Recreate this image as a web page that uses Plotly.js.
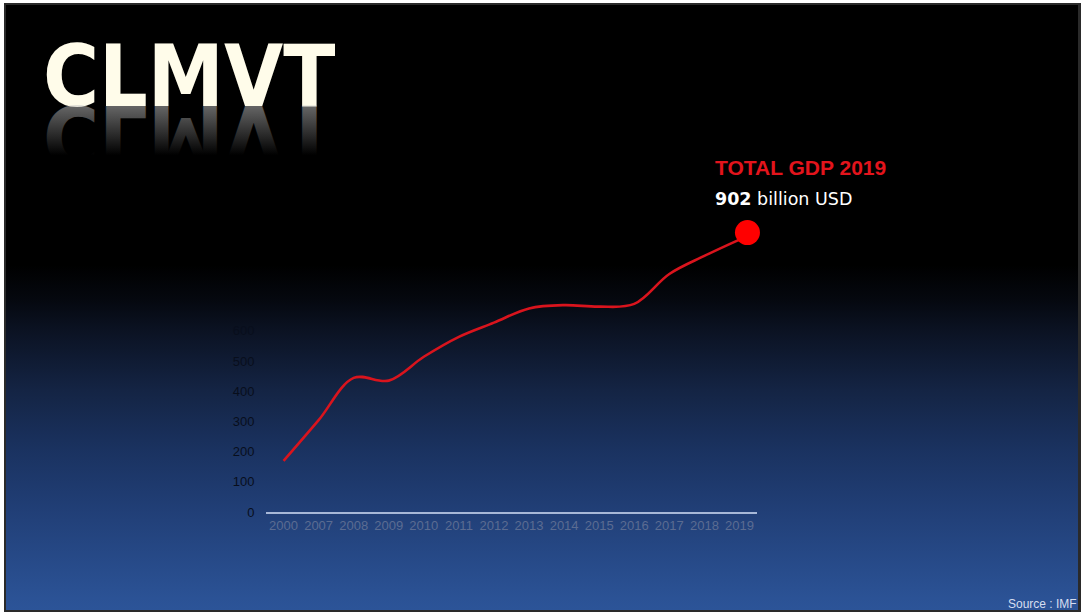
<!DOCTYPE html>
<html>
<head>
<meta charset="utf-8">
<script src="https://cdn.plot.ly/plotly-3.0.1.min.js"></script>
<style>
  html, body { margin: 0; padding: 0; background: #ffffff; }
  #chart {
    width: 1084px; height: 615px;
    background:
      linear-gradient(to bottom, #000000 0%, #000000 43%, #05080f 48.7%, #0b1222 53.6%, #142444 63.7%, #1a3260 73.4%, #213f77 83.7%, #2b5295 98%, #2c5498 100%) 6px 5px / 1072px 605px no-repeat,
      linear-gradient(#2a2a2a, #2a2a2a) 4px 3px / 1077px 609px no-repeat,
      #ffffff;
  }
</style>
</head>
<body>
<div id="chart"></div>
<script>
// ---- data ----
const years = ["2000","2007","2008","2009","2010","2011","2012","2013","2014","2015","2016","2017","2018","2019"];
const gdp = [169, 304, 444, 435, 514, 580, 627, 674, 685, 680, 689, 788, 848, 902];
const yTicks = [0, 100, 200, 300, 400, 500, 600];
const lastYear = ["2019"];
const lastValue = [902];

// plot area in pixels: left 266, right 757, top 210, bottom 512
const L = 266, R = 757, T = 210, B = 512;
const px = x => (x - L) / (R - L);
const py = y => (B - y) / (B - T);
const catW = (R - L) / years.length;       // px per category
const unitH = (B - T) / 1000;              // px per y unit
const mdx = 8 / catW, mdy = 7 / unitH;     // marker sits a little up-right of the line end

const traces = [
  {
    x: years, y: gdp, type: 'scatter', mode: 'lines',
    line: { color: '#d9141d', width: 2.6, shape: 'spline', smoothing: 1 },
    hoverinfo: 'skip'
  },
  {
    x: lastYear, y: lastValue, type: 'scatter', mode: 'markers',
    xaxis: 'x2', yaxis: 'y2', cliponaxis: false,
    marker: { color: '#ff0000', size: 25, line: { width: 0 } },
    hoverinfo: 'skip'
  }
];

const fontA = 'Liberation Sans, Arial, sans-serif';
const titleFont = 'DejaVu Sans Condensed, DejaVu Sans, sans-serif';
const layout = {
  width: 1084, height: 615,
  paper_bgcolor: 'rgba(0,0,0,0)', plot_bgcolor: 'rgba(0,0,0,0)',
  margin: { l: L, r: 1084 - R, t: T, b: 615 - B, pad: 0 },
  showlegend: false,
  xaxis: {
    type: 'category', categoryarray: years, range: [-0.5, years.length - 0.5],
    showgrid: false, zeroline: false,
    showline: true, linecolor: '#a7b8d8', linewidth: 2,
    ticks: '', tickfont: { family: fontA, size: 13, color: '#5b6c92' },
    fixedrange: true
  },
  yaxis: {
    range: [0, 1000], tickvals: yTicks, ticktext: yTicks.map(String),
    showgrid: false, zeroline: false, showline: false,
    ticks: 'outside', ticklen: 8, tickcolor: 'rgba(0,0,0,0)',
    tickfont: { family: fontA, size: 13, color: '#080e1c' },
    fixedrange: true
  },
  xaxis2: {
    type: 'category', categoryarray: years, overlaying: 'x', visible: false,
    range: [-0.5 - mdx, years.length - 0.5 - mdx], fixedrange: true
  },
  yaxis2: {
    overlaying: 'y', visible: false, range: [-mdy, 1000 - mdy], fixedrange: true
  },
  annotations: [
    { // 0 title
      text: '<b>CLMVT</b>', xref: 'paper', yref: 'paper',
      x: px(41), y: py(128), xanchor: 'left', yanchor: 'bottom', showarrow: false,
      font: { family: titleFont, size: 85, color: '#fffcea' }
    },
    { // 1 title reflection (same box, flipped afterwards)
      text: '<b>CLMVT</b>', xref: 'paper', yref: 'paper',
      x: px(41), y: py(128), xanchor: 'left', yanchor: 'bottom', showarrow: false,
      font: { family: titleFont, size: 85, color: '#888888' }
    },
    { // 2
      text: '<b>TOTAL GDP 2019</b>', xref: 'paper', yref: 'paper',
      x: px(713), y: py(181), xanchor: 'left', yanchor: 'bottom', showarrow: false,
      font: { family: fontA, size: 21, color: '#e3141c' }
    },
    { // 3
      text: '<b>902</b> billion USD', xref: 'paper', yref: 'paper',
      x: px(713), y: py(199), xanchor: 'left', yanchor: 'middle', showarrow: false,
      font: { family: 'DejaVu Sans, sans-serif', size: 17.5, color: '#ffffff' }
    },
    { // 4
      text: 'Source : IMF', xref: 'paper', yref: 'paper',
      x: px(1079), y: py(604), xanchor: 'right', yanchor: 'middle', showarrow: false,
      font: { family: fontA, size: 12, color: '#d6def0' }
    }
  ]
};

Plotly.newPlot('chart', traces, layout, { staticPlot: true, displayModeBar: false }).then(gd => {
  // mirrored, fading reflection of the title
  const svg = gd.querySelector('svg.main-svg');
  const NS = 'http://www.w3.org/2000/svg';
  const defs = svg.querySelector('defs');
  const grad = document.createElementNS(NS, 'linearGradient');
  grad.setAttribute('id', 'reflGrad');
  grad.setAttribute('x1', '0'); grad.setAttribute('y1', '0');
  grad.setAttribute('x2', '0'); grad.setAttribute('y2', '1');
  [[0, 0], [0.3, 0], [0.78, 0.5], [1, 0.6]].forEach(([o, a]) => {
    const s = document.createElementNS(NS, 'stop');
    s.setAttribute('offset', o);
    s.setAttribute('stop-color', '#c4c4c4');
    s.setAttribute('stop-opacity', a);
    grad.appendChild(s);
  });
  defs.appendChild(grad);
  const anns = gd.querySelectorAll('.annotation');
  const orig = anns[0] && anns[0].querySelector('text');
  const refl = anns[1] && anns[1].querySelector('text');
  if (orig && refl) {
    const fs = 85;
    const shift = (0.928 - 0.236) * fs; // ascent - descent
    refl.style.fill = 'url(#reflGrad)';
    refl.style.transformBox = 'fill-box';
    refl.style.transformOrigin = 'center';
    refl.style.transform = 'translateY(' + shift + 'px) scaleY(-1)';
  }
});
</script>
</body>
</html>
